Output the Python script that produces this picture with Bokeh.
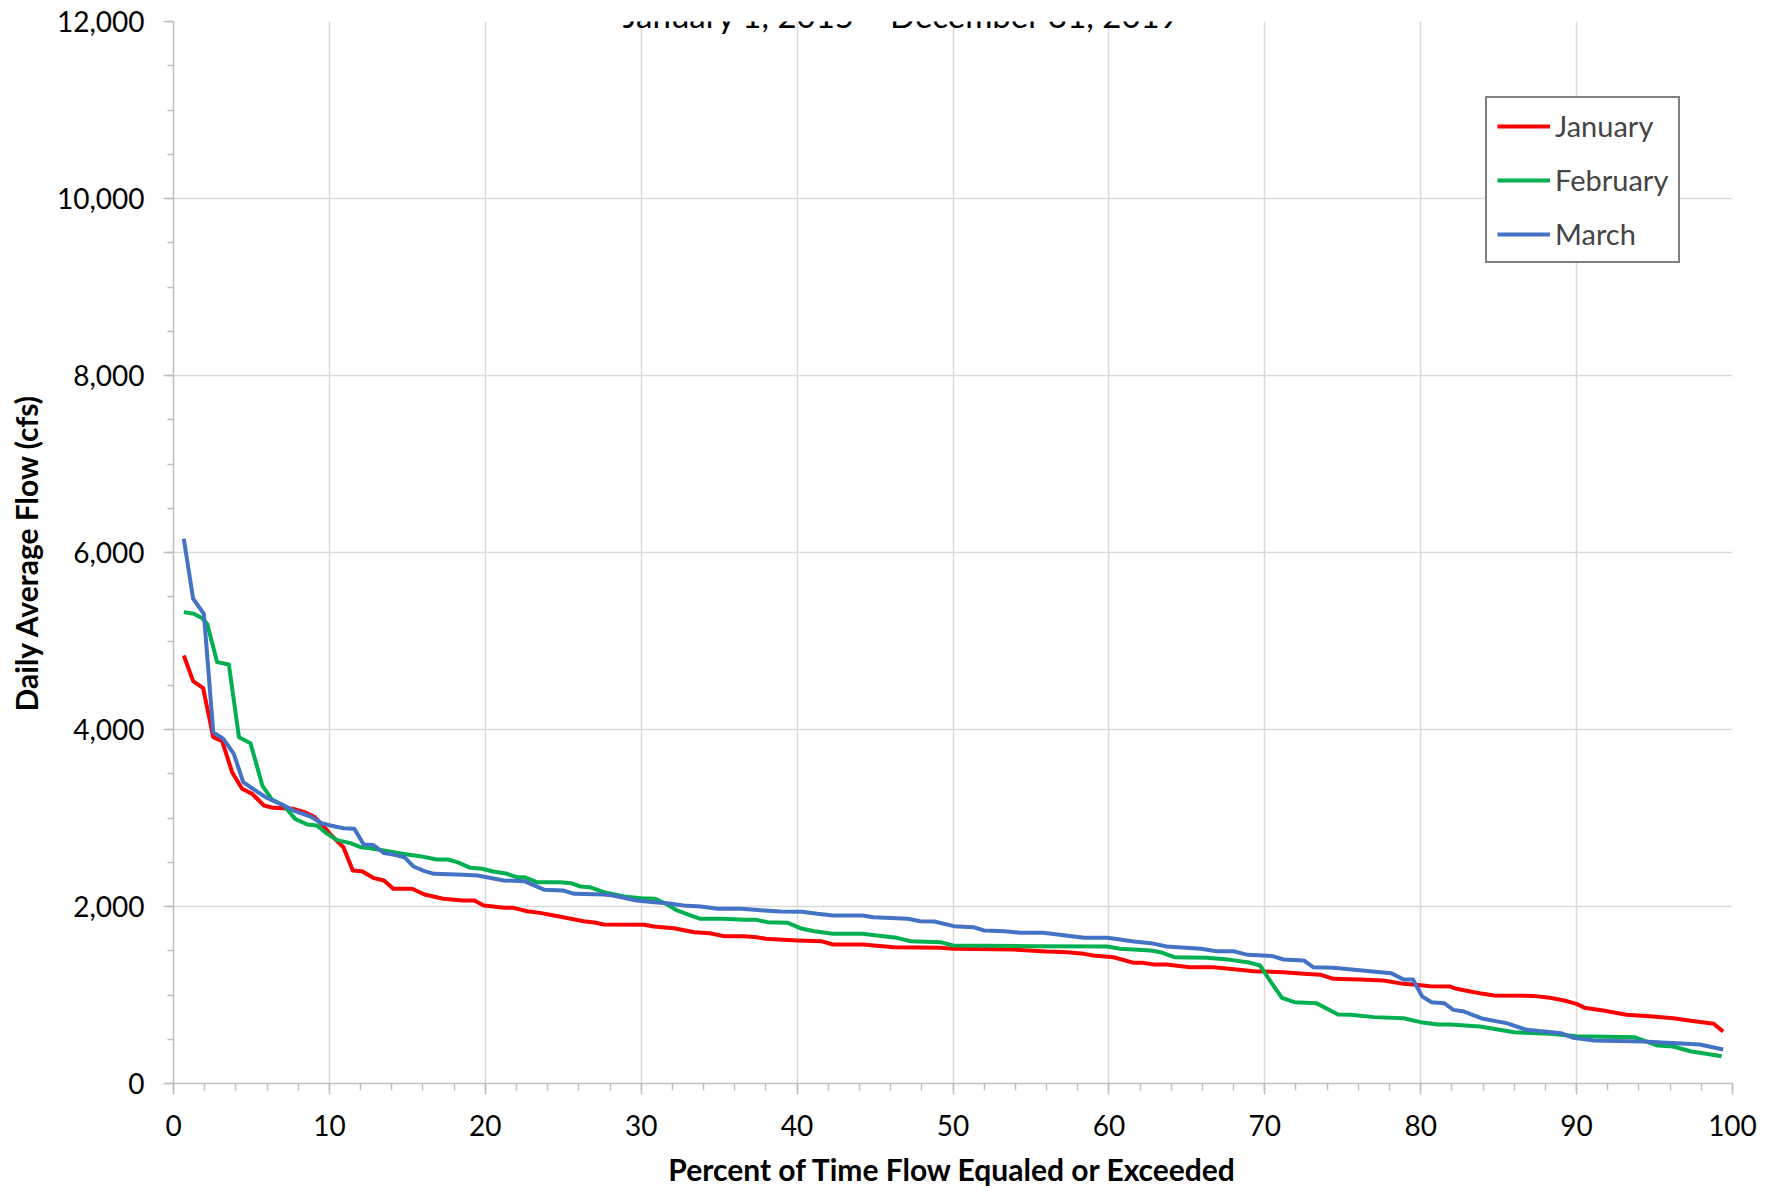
from bokeh.plotting import figure
from bokeh.models import (FixedTicker, NumeralTickFormatter, Legend, LegendItem,
                          Label, Range1d)
from bokeh.embed import file_html
from bokeh.resources import INLINE

# ---------------- data ----------------
title_text = "January 1, 2015 \u2013 December 31, 2019"
x_title = "Percent of Time Flow Equaled or Exceeded"
y_title = "Daily Average Flow (cfs)"
series_names = ["January", "February", "March"]
series_colors = ["#FF0000", "#00B050", "#4472C4"]

x_ticks = [0, 10, 20, 30, 40, 50, 60, 70, 80, 90, 100]
y_ticks = [0, 2000, 4000, 6000, 8000, 10000, 12000]

jan_pct = [0.66, 1.26, 1.9, 2.55, 3.12, 3.76, 4.4, 5.05, 5.8, 6.4, 7.7, 8.4, 9.0, 9.6,
           10.07, 10.9, 11.5, 12.1, 12.8, 13.5, 14.1, 15.3, 16.1, 17.3, 18.6, 19.3, 19.9,
           20.5, 21.2, 21.8, 22.7, 23.5, 24.4, 25.0, 26.3, 27.0, 27.6, 30.2, 30.8, 32.1,
           33.4, 34.4, 35.3, 36.6, 37.4, 38.0, 40.0, 41.6, 42.3, 44.2, 46.2, 49.2, 50.0,
           53.9, 56.0, 57.3, 58.4, 59.0, 60.3, 61.6, 62.2, 62.9, 63.7, 65.2, 66.7, 68.2,
           69.3, 71.2, 72.5, 73.6, 74.4, 76.1, 77.6, 78.9, 79.7, 80.6, 81.9, 82.3, 83.1,
           84.0, 84.7, 87.2, 88.3, 89.2, 90.0, 90.5, 91.7, 93.2, 94.7, 96.2, 97.2, 98.8,
           99.4]
jan_cfs = [4836, 4546, 4467, 3913, 3868, 3518, 3330, 3273, 3141, 3115, 3104, 3066, 3017, 2915,
           2814, 2670, 2407, 2399, 2324, 2294, 2200, 2200, 2136, 2087, 2068, 2068, 2011,
           2000, 1985, 1985, 1947, 1928, 1898, 1879, 1834, 1819, 1797, 1793, 1774, 1755,
           1710, 1698, 1665, 1665, 1653, 1635, 1616, 1606, 1571, 1571, 1540, 1533, 1522,
           1514, 1491, 1484, 1465, 1446, 1427, 1363, 1363, 1345, 1345, 1314, 1314, 1288,
           1268, 1258, 1240, 1228, 1183, 1175, 1164, 1126, 1115, 1100, 1096, 1070, 1043,
           1013, 994, 990, 968, 938, 900, 855, 825, 776, 761, 738, 712, 674,
           588]

feb_pct = [0.66, 1.3, 1.84, 2.16, 2.8, 3.55, 4.2, 4.94, 5.7, 6.33, 7.08, 7.8, 8.58, 9.2,
           9.86, 10.5, 11.35, 12.0, 12.6, 13.5, 14.1, 15.0, 15.8, 16.9, 17.6, 18.2, 19.05,
           19.8, 20.5, 21.4, 22.0, 22.5, 23.3, 24.8, 25.5, 26.1, 26.7, 27.6, 28.9, 30.0,
           30.9, 31.7, 32.3, 33.2, 33.8, 35.3, 36.6, 37.4, 38.1, 39.4, 40.2, 41.1, 42.3,
           44.2, 45.1, 46.4, 47.3, 49.2, 50.0, 55.2, 59.9, 60.7, 62.7, 63.3, 64.2, 66.3,
           67.8, 68.9, 69.7, 70.4, 71.1, 71.9, 73.3, 74.7, 75.5, 77.0, 78.9, 80.0, 81.1,
           81.9, 83.8, 86.0, 88.3, 90.0, 93.7, 95.2, 96.2, 97.3, 99.3]
feb_cfs = [5326, 5307, 5258, 5194, 4761, 4734, 3913, 3845, 3367, 3205, 3141, 2990, 2927, 2915,
           2821, 2750, 2716, 2670, 2659, 2633, 2614, 2588, 2569, 2531, 2531, 2501, 2437,
           2426, 2395, 2369, 2331, 2331, 2275, 2275, 2263, 2226, 2218, 2162, 2113, 2094,
           2087, 2019, 1955, 1898, 1861, 1861, 1849, 1849, 1823, 1815, 1755, 1721, 1691,
           1691, 1672, 1646, 1608, 1597, 1559, 1552, 1548, 1522, 1503, 1484, 1427, 1420,
           1397, 1371, 1333, 1145, 968, 919, 908, 780, 776, 750, 738, 693, 667,
           667, 644, 580, 561, 535, 523, 429, 418, 365, 309]

mar_pct = [0.66, 1.26, 1.95, 2.55, 3.2, 3.87, 4.47, 5.1, 5.9, 7.08, 7.8, 8.8, 9.5, 10.07,
           10.9, 11.6, 12.2, 12.8, 13.5, 14.1, 14.8, 15.4, 16.1, 16.7, 18.6, 19.5, 20.1,
           21.2, 22.5, 23.8, 25.0, 25.7, 27.6, 28.2, 29.7, 30.8, 31.7, 32.7, 33.8, 34.9,
           36.4, 37.9, 38.9, 40.3, 41.3, 42.3, 44.2, 44.9, 47.1, 47.9, 48.8, 50.05, 51.3,
           52.0, 53.3, 54.3, 55.8, 58.4, 59.9, 61.6, 62.7, 63.7, 65.9, 66.9, 68.0, 68.9,
           70.5, 71.2, 72.5, 73.1, 74.4, 78.1, 78.9, 79.5, 80.1, 80.7, 81.5, 82.1, 82.7,
           84.0, 85.5, 86.8, 89.0, 89.8, 91.1, 94.3, 97.9, 99.4]
mar_cfs = [6155, 5477, 5307, 3970, 3894, 3725, 3405, 3330, 3235, 3141, 3077, 3017, 2941, 2915,
           2885, 2878, 2700, 2696, 2603, 2588, 2557, 2452, 2399, 2369, 2358, 2350, 2331,
           2294, 2286, 2188, 2181, 2143, 2136, 2124, 2068, 2049, 2037, 2011, 2000, 1974,
           1974, 1955, 1943, 1940, 1917, 1898, 1898, 1879, 1861, 1834, 1830, 1778, 1766,
           1729, 1721, 1703, 1703, 1646, 1646, 1605, 1586, 1548, 1522, 1495, 1495, 1454,
           1439, 1401, 1390, 1314, 1307, 1247, 1175, 1175, 983, 919, 908, 832, 817,
           731, 682, 607, 569, 516, 486, 475, 441, 384]

FONT = "Lato"

# ---------------- figure ----------------
p = figure(width=1773, height=1191, output_backend="svg", toolbar_location=None,
           x_range=Range1d(0, 100), y_range=Range1d(0, 12000),
           min_border_left=173, min_border_right=41, min_border_top=21,
           min_border_bottom=108)
p.outline_line_color = None
p.background_fill_color = "white"
p.border_fill_color = "white"

xt = FixedTicker(ticks=x_ticks, minor_ticks=list(range(0, 101, 2)))
yt = FixedTicker(ticks=y_ticks, minor_ticks=list(range(0, 12001, 500)))
p.xaxis.ticker = xt
p.yaxis.ticker = yt
p.xgrid.ticker = xt
p.ygrid.ticker = yt
for g in (p.xgrid, p.ygrid):
    g.grid_line_color = "#d9d9d9"
    g.grid_line_width = 1.5

p.yaxis.formatter = NumeralTickFormatter(format="0,0")

for ax in (p.xaxis, p.yaxis):
    ax.axis_line_color = "#bfbfbf"
    ax.axis_line_width = 1.5
    ax.major_tick_line_color = "#bfbfbf"
    ax.minor_tick_line_color = "#bfbfbf"
    ax.major_tick_line_width = 1.5
    ax.minor_tick_line_width = 1.5
    ax.major_tick_in = 0
    ax.minor_tick_in = 0
    ax.major_label_text_font = FONT
    ax.major_label_text_font_size = "28px"
    ax.major_label_text_color = "black"
    ax.axis_label_text_font = FONT
    ax.axis_label_text_font_style = "bold"
    ax.axis_label_text_font_size = "30px"
    ax.axis_label_text_color = "black"

p.xaxis.major_tick_out = 11
p.xaxis.minor_tick_out = 7
p.yaxis.major_tick_out = 10
p.yaxis.minor_tick_out = 6
p.xaxis.major_label_standoff = 20
p.yaxis.major_label_standoff = 19
p.xaxis.axis_label = x_title
p.yaxis.axis_label = y_title
p.xaxis.axis_label_standoff = 12
p.yaxis.axis_label_standoff = 10

renderers = []
for xs, ys, c in ((jan_pct, jan_cfs, series_colors[0]),
                  (feb_pct, feb_cfs, series_colors[1]),
                  (mar_pct, mar_cfs, series_colors[2])):
    r = p.line(xs, ys, line_color=c, line_width=4, line_join="round")
    renderers.append(r)

legend = Legend(items=[LegendItem(label=n, renderers=[r])
                       for n, r in zip(series_names, renderers)],
                location=(1312, 820), margin=0, padding=10, spacing=19,
                glyph_width=53, glyph_height=20, label_standoff=5,
                label_text_font=FONT, label_text_font_size="29px",
                border_line_color="black", border_line_width=2,
                background_fill_color="white", background_fill_alpha=1)
p.add_layout(legend)

p.add_layout(Label(x=46.7, y=12073, text=title_text, text_align="center",
                   text_baseline="alphabetic", text_font=FONT,
                   text_font_size="33px", text_color="black"))

open("out.html", "w").write(file_html(p, INLINE))
